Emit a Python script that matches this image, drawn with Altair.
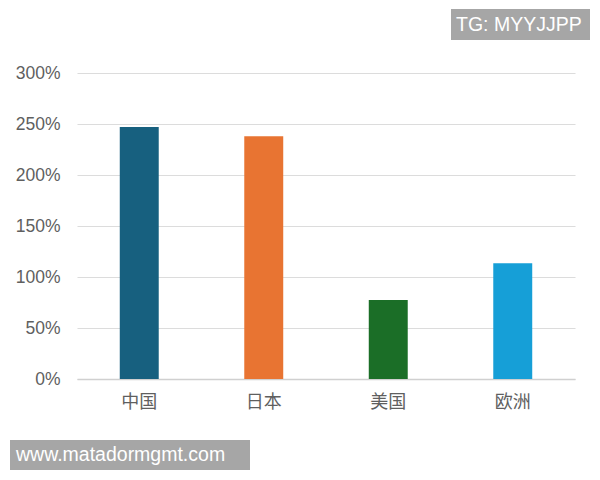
import altair as alt
import pandas as pd

categories = ["中国", "日本", "美国", "欧洲"]
values = [2.47, 2.38, 0.775, 1.135]
colors = ["#17607f", "#e87432", "#1b6e27", "#169fd7"]
y_ticks = [0, 0.5, 1.0, 1.5, 2.0, 2.5, 3.0]
watermark_top = "TG: MYYJJPP"
watermark_bottom = "www.matadormgmt.com"

df = pd.DataFrame({"category": categories, "value": values})

bars = alt.Chart(df).mark_bar().encode(
    x=alt.X("category:N", sort=categories, title=None,
            scale=alt.Scale(paddingInner=0.687, paddingOuter=0.3435),
            axis=alt.Axis(labelAngle=0, labelFontSize=18, labelColor="#5f5f5f",
                          labelFont="Noto Sans CJK SC", ticks=False, labelPadding=14,
                          domainColor="#d0d0d0", domainWidth=1.5, grid=False)),
    y=alt.Y("value:Q", title=None,
            scale=alt.Scale(domain=[0, 3], nice=False),
            axis=alt.Axis(values=y_ticks, format=".0%", labelFontSize=17.5,
                          labelColor="#5f5f5f", labelFont="Liberation Sans",
                          ticks=False, domain=False, labelPadding=17,
                          gridColor="#dcdcdc", gridWidth=1.2)),
    color=alt.Color("category:N", sort=categories,
                    scale=alt.Scale(domain=categories, range=colors), legend=None),
)

wm = pd.DataFrame({"t": [watermark_top]})
wm2 = pd.DataFrame({"t": [watermark_bottom]})

box_top = alt.Chart(wm).mark_rect(color="#a6a6a6").encode(
    x=alt.value(374), x2=alt.value(513), y=alt.value(-64), y2=alt.value(-33))
text_top = alt.Chart(wm).mark_text(color="white", fontSize=19.5, align="left",
                                   baseline="middle", font="Liberation Sans").encode(
    x=alt.value(379), y=alt.value(-48), text="t:N")

box_bot = alt.Chart(wm2).mark_rect(color="#a6a6a6").encode(
    x=alt.value(-67), x2=alt.value(173), y=alt.value(367), y2=alt.value(397))
text_bot = alt.Chart(wm2).mark_text(color="white", fontSize=19.5, align="left",
                                    baseline="middle", font="Liberation Sans").encode(
    x=alt.value(-61), y=alt.value(382), text="t:N")

chart = alt.layer(bars, box_top, text_top, box_bot, text_bot).properties(
    width=498, height=306,
    autosize=alt.AutoSizeParams(type="none"),
    padding={"left": 69, "top": 65, "right": 17, "bottom": 93},
).configure(background="white").configure_view(stroke=None, strokeWidth=0)

chart.save("out.html", embed_options={"renderer": "svg", "actions": False})
